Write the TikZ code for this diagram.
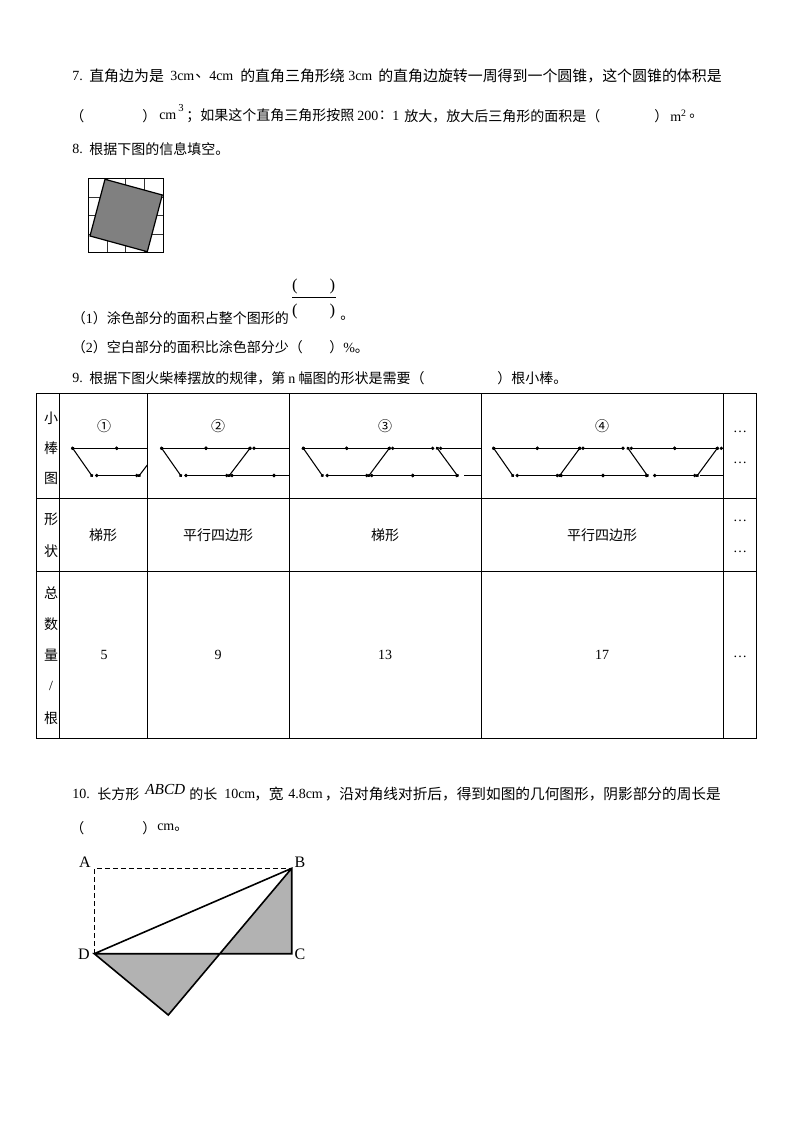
\documentclass[tikz,border=0pt]{standalone}
\usepackage{fontspec}
\usepackage{tikz}
\usetikzlibrary{arrows.meta}
\setmainfont{Noto Sans CJK SC}
\newfontfamily\latinfont{Liberation Serif}
\newcommand{\en}[1]{{\latinfont #1}}
\tikzset{
    textline/.style={anchor=west, inner sep=0pt, font=\fontsize{10.5}{12}\selectfont},
    wideline/.style={anchor=west, inner sep=0pt, font=\fontsize{11}{13}\selectfont},
    widerline/.style={anchor=west, inner sep=0pt, font=\fontsize{11.2}{13}\selectfont},
    cell/.style={inner sep=0pt, font=\fontsize{10.5}{12}\selectfont},
    bigparen/.style={inner sep=0pt, font=\fontsize{12.5}{15}\selectfont},
    gridline/.style={line width=0.6pt, black!80},
    tableline/.style={line width=0.8pt, black},
    stick/.style={line width=0.8pt, shorten <=-1.2pt, shorten >=-1.2pt, {Circle[length=2.4pt]}-{Circle[length=2.4pt]}},
    stickfree/.style={line width=0.8pt, shorten <=-1.2pt, {Circle[length=2.4pt]}-},
    label/.style={inner sep=0pt, font=\latinfont\fontsize{12}{14}\selectfont},
}
\begin{document}
\begin{tikzpicture}[x=0.75pt, y=-0.75pt]
\useasboundingbox (0,0) rectangle (794,1123);

% question 7
\node[textline] (q7num) at (72,76) {\en{7.}};
\node[widerline] (q7a1) at (89,76) {直角边为是};
\node[textline] (q7a2) at (170,76) {\en{3cm}};
\node[widerline] (q7a3) at (195,76) {、};
\node[textline] (q7a4) at (209,76) {\en{4cm}};
\node[widerline] (q7a5) at (240,76) {的直角三角形绕};
\node[textline] (q7a6) at (348,76) {\en{3cm}};
\node[widerline] (q7a7) at (378,76) {的直角边旋转一周得到一个圆锥，这个圆锥的体积是};
\node[textline] (q7b) at (70,116) {（};
\node[textline] (q7c) at (142,116) {）};
\node[textline] (q7d) at (159,116) {\en{cm}};
\node[textline, font=\fontsize{8}{10}\selectfont] (q7e) at (178,108) {\en{3}};
\node[textline] (q7f) at (186,116) {；如果这个直角三角形按照 \en{200}};
\node[textline] (q7f2) at (375,116) {∶};
\node[textline] (q7f3) at (392,116) {\en{1}};
\node[textline] (q7f4) at (404,116) {放大，放大后三角形的面积是（};
\node[textline] (q7g) at (654,116) {）};
\node[textline] (q7h) at (670,116) {\en{m\textsuperscript{2}}};
\node[textline] (q7i) at (689,116) {。};

% question 8
\node[textline] (q8num) at (72,149) {\en{8.}};
\node[textline] (q8) at (89,149) {根据下图的信息填空。};
\fill[gray] (105,179.3) -- (162.3,195) -- (147.3,251.7) -- (90,236) -- cycle;
\draw[gridline] (107,178.3) -- (107,180) (125.7,178.3) -- (125.7,185) (144.3,178.3) -- (144.3,190);
\draw[gridline] (107,240.7) -- (107,252.7) (125.7,245.8) -- (125.7,252.7) (144.3,250.9) -- (144.3,252.7);
\draw[gridline] (88.3,197) -- (100.3,197) (88.3,215.7) -- (95.4,215.7) (88.3,234) -- (90.5,234);
\draw[gridline] (161.8,197) -- (163.3,197) (156.8,215.7) -- (163.3,215.7) (152,234) -- (163.3,234);
\draw[line width=0.9pt] (88.3,178.3) rectangle (163.3,252.7);
\draw[line width=0.9pt] (105,179.3) -- (162.3,195) -- (147.3,251.7) -- (90,236) -- cycle;

\node[textline] (q8a) at (71.5,318) {（\en{1}）涂色部分的面积占整个图形的};
\node[bigparen] (fracTL) at (295,286) {\en{(}};
\node[bigparen] (fracTR) at (332.5,286) {\en{)}};
\draw[line width=0.7pt] (292,297.3) -- (336,297.3);
\node[bigparen] (fracBL) at (295,311) {\en{(}};
\node[bigparen] (fracBR) at (332.5,311) {\en{)}};
\node[textline] (q8b) at (340,318) {。};
\node[textline] (q8c) at (71.5,347) {（\en{2}）空白部分的面积比涂色部分少（};
\node[textline] (q8d) at (329,347) {）\en{\%}。};

% question 9
\node[textline] (q9num) at (72,378) {\en{9.}};
\node[textline] (q9a) at (89,378) {根据下图火柴棒摆放的规律，第 \en{n} 幅图的形状是需要（};
\node[textline] (q9b) at (497,378) {）根小棒。};

% table
\draw[tableline] (36.3,393.7) rectangle (756.3,738.3);
\draw[tableline] (36.3,498.3) -- (756.3,498.3);
\draw[tableline] (36.3,571.3) -- (756.3,571.3);
\draw[tableline] (59.3,393.7) -- (59.3,738.3);
\draw[tableline] (147.3,393.7) -- (147.3,738.3);
\draw[tableline] (289.3,393.7) -- (289.3,738.3);
\draw[tableline] (481.3,393.7) -- (481.3,738.3);
\draw[tableline] (723.3,393.7) -- (723.3,738.3);

\node[cell] (head1) at (51,418) {小};
\node[cell] (head2) [below of=head1, node distance=22.5pt] {棒};
\node[cell] (head3) [below of=head2, node distance=22.5pt] {图};
\node[cell] (shape1) at (51,519) {形};
\node[cell] (shape2) at (51,551) {状};
\node[cell] (total1) at (51,593) {总};
\node[cell] (total2) at (51,624) {数};
\node[cell] (total3) at (51,655) {量};
\node[cell] (total4) at (51,686) {\en{/}};
\node[cell] (total5) at (51,718) {根};

\node[cell] (fig1) at (104,426) {①};
\node[cell] (fig2) at (218,426) {②};
\node[cell] (fig3) at (385,426) {③};
\node[cell] (fig4) at (602,426) {④};

\node[cell] (name1) at (103,535) {梯形};
\node[cell] (name2) at (218,535) {平行四边形};
\node[cell] (name3) at (385,535) {梯形};
\node[cell] (name4) at (602,535) {平行四边形};

\node[cell] (num1) at (104,655) {\en{5}};
\node[cell] (num2) at (218,655) {\en{9}};
\node[cell] (num3) at (385,655) {\en{13}};
\node[cell] (num4) at (602,655) {\en{17}};

\node[cell] (more1) at (740,432) {\en{…}};
\node[cell] (more2) at (740,463) {\en{…}};
\node[cell] (more3) at (740,521) {\en{…}};
\node[cell] (more4) at (740,552) {\en{…}};
\node[cell] (more5) at (740,657) {\en{…}};

% sticks, figure 1
\draw[stick] (72.7,448.3) -- (91.7,475.5);
\draw[stick] (72.7,448.3) -- (116.7,448.3);
\draw[stickfree] (116.7,448.3) -- (147.3,448.3);
\draw[stick] (96.7,475.5) -- (136.7,475.5);
\draw[stickfree] (139.3,475.5) -- (147.3,465);
% sticks, figure 2
\draw[stick] (161.7,448.3) -- (180.7,475.5);
\draw[stick] (161.7,448.3) -- (206,448.3);
\draw[stick] (206,448.3) -- (250,448.3);
\draw[stickfree] (254,448.3) -- (289.3,448.3);
\draw[stick] (186,475.5) -- (226.7,475.5);
\draw[stick] (229.3,475.5) -- (250,448.3);
\draw[stick] (232,475.5) -- (274,475.5);
\draw[stickfree] (274,475.5) -- (289.3,475.5);
% sticks, figure 3
\draw[stick] (303.3,448.3) -- (322.3,475.5);
\draw[stick] (303.3,448.3) -- (346.7,448.3);
\draw[stick] (346.7,448.3) -- (389.3,448.3);
\draw[stick] (392.7,448.3) -- (432.7,448.3);
\draw[stick] (437.3,448.3) -- (457.3,475.5);
\draw[stickfree] (440.7,448.3) -- (481.3,448.3);
\draw[stick] (327.3,475.5) -- (366.7,475.5);
\draw[stick] (369,475.5) -- (389.3,448.3);
\draw[stick] (371.7,475.5) -- (412.7,475.5);
\draw[stick] (412.7,475.5) -- (456.7,475.5);
\draw[line width=0.8pt] (464.3,475.5) -- (481.3,475.5);
% sticks, figure 4
\draw[stick] (493.7,448.3) -- (512.7,475.5);
\draw[stick] (493.7,448.3) -- (537.3,448.3);
\draw[stick] (537.3,448.3) -- (579.7,448.3);
\draw[stick] (583,448.3) -- (623,448.3);
\draw[stick] (628,448.3) -- (647.3,475.5);
\draw[stick] (631.3,448.3) -- (674.7,448.3);
\draw[stick] (674.7,448.3) -- (717.3,448.3);
\draw[stickfree] (721.3,448.3) -- (723.3,448.3);
\draw[stick] (517.3,475.5) -- (557.3,475.5);
\draw[stick] (559.7,475.5) -- (579.7,448.3);
\draw[stick] (561.3,475.5) -- (603,475.5);
\draw[stick] (603,475.5) -- (646.3,475.5);
\draw[stick] (654.7,475.5) -- (694.7,475.5);
\draw[stick] (697.3,475.5) -- (717.3,448.3);
\draw[line width=0.8pt] (699.7,475.5) -- (723.3,475.5);

% question 10
\node[textline] (q10num) at (72,794) {\en{10.}};
\node[textline] (q10a) at (97,794) {长方形};
\node[textline, font=\fontsize{11.5}{13}\selectfont] (q10b) at (145,789) {\en{\textit{ABCD}}};
\node[textline] (q10c1) at (189,794) {的长};
\node[textline] (q10c2) at (224,794) {\en{10cm}};
\node[wideline] (q10c3) at (254,794) {，宽};
\node[textline] (q10c4) at (288,794) {\en{4.8cm}};
\node[wideline] (q10c5) at (324.5,794) {，沿对角线对折后，得到如图的几何图形，阴影部分的周长是};
\node[textline] (q10d) at (70,828) {（};
\node[textline] (q10e) at (142,828) {）};
\node[textline] (q10f) at (157,828) {\en{cm}。};

% folded rectangle
\coordinate (A) at (94.3,868.3);
\coordinate (B) at (291.7,868.3);
\coordinate (C) at (291.7,953.7);
\coordinate (D) at (94.3,953.7);
\coordinate (E) at (168.3,1015);
\coordinate (F) at (219,953.7);
\fill[black!30] (B) -- (C) -- (F) -- cycle;
\fill[black!30] (D) -- (F) -- (E) -- cycle;
\draw[line width=1.1pt, dash pattern=on 3.5pt off 2.5pt] (D) -- (A) -- (B);
\draw[line width=1.2pt] (D) -- (B) -- (C) -- (D) -- (E) -- (B);
\node[label] (labelA) at (85,862) {A};
\node[label] (labelB) at (300,862) {B};
\node[label] (labelC) at (300,954) {C};
\node[label] (labelD) at (84,954) {D};
\end{tikzpicture}
\end{document}
